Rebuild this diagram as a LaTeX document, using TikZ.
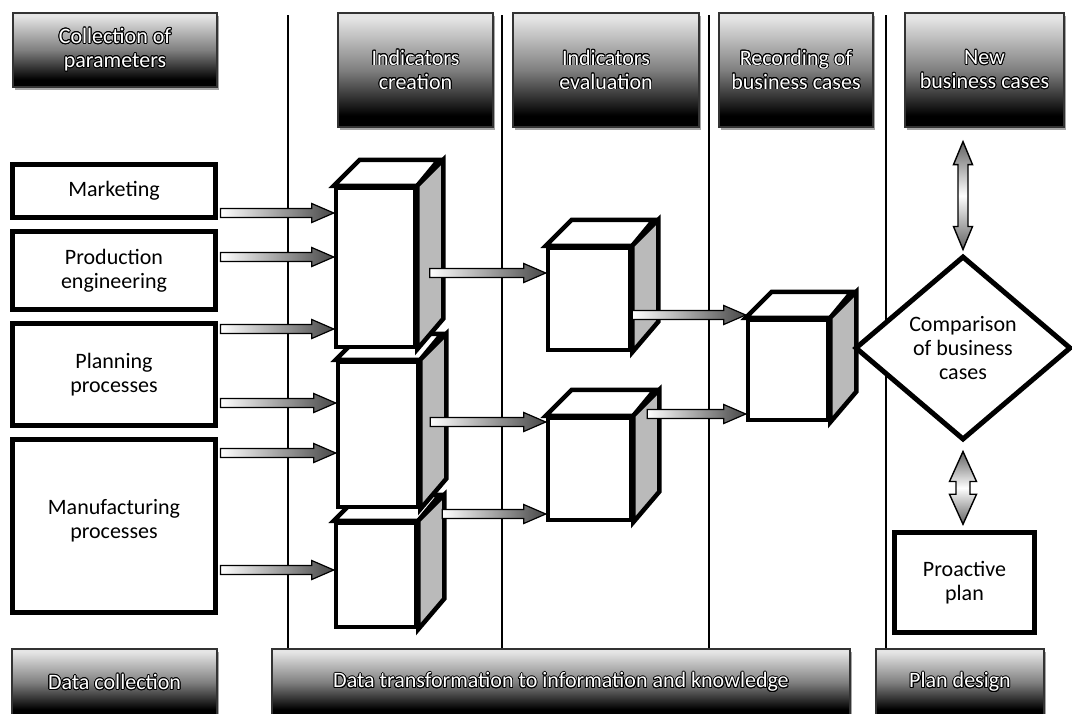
\documentclass[tikz,border=0pt]{standalone}
\usepackage{fontspec}
\setmainfont{Carlito}
\usepackage{contour}
\contourlength{0.85pt}
\usetikzlibrary{calc,shapes.geometric}
\pgfdeclareverticalshading{hdrshade}{100bp}{color(0bp)=(black); color(30bp)=(black); color(50bp)=(black!50); color(73bp)=(black!10); color(100bp)=(black!10)}
\newcommand\lbl{\fontsize{22}{24}\selectfont}
\newcommand\hw[1]{\contour{black}{#1}}
\tikzset{
  hdr/.style={shade, shading=hdrshade, draw=black!80, line width=1.2pt,
    preaction={fill=black, opacity=0.35, transform canvas={shift={(2pt,-3pt)}}},
    text=white, align=center, inner sep=0pt, font=\lbl},
  srcbox/.style={draw=black, line width=5pt, fill=white, align=center, inner sep=0pt, font=\lbl, text=black},
  plaintext/.style={align=center, inner sep=0pt, font=\lbl, text=black},
  cubefront/.style={draw=black, line width=4.5pt, fill=white, inner sep=0pt, line join=miter},
  cubeface/.style={draw=black, line width=4.5pt, line join=miter},
  swim/.style={line width=1.8pt, black},
  garrow/.style={left color=white, right color=black!72, draw=black, line width=1.2pt, line join=miter},
  darrow/.style={top color=black!62, bottom color=black!62, middle color=white, draw=black, line width=1.4pt, line join=miter},
}
\newcommand\harr[2]{%
  \path[garrow] let \p1=(#1), \p2=(#2) in
   (\x1,\y1+4.5pt) -- (\x2-22pt,\y1+4.5pt) -- (\x2-22pt,\y1+9.5pt) -- (\x2,\y1)
   -- (\x2-22pt,\y1-9.5pt) -- (\x2-22pt,\y1-4.5pt) -- (\x1,\y1-4.5pt) -- cycle;}
\newcommand\varr[5]{%
  \path[darrow] let \p1=(#1), \p2=(#2) in
   (\x1,\y1) -- (\x1+#4pt,\y1-#3pt) -- (\x1+#5pt,\y1-#3pt) -- (\x1+#5pt,\y2+#3pt)
   -- (\x1+#4pt,\y2+#3pt) -- (\x1,\y2) -- (\x1-#4pt,\y2+#3pt) -- (\x1-#5pt,\y2+#3pt)
   -- (\x1-#5pt,\y1-#3pt) -- (\x1-#4pt,\y1-#3pt) -- cycle;}
\newcommand\cubeat[4]{%
  \node[cubefront, minimum width=#3pt, minimum height=#4pt] (#1) at (#2) {};
  \path[cubeface, fill=white] (#1.north west) -- ++(26,-26) -- ++(#3,0) -- (#1.north east) -- cycle;
  \path[cubeface, fill=black!27] (#1.north east) -- ++(26,-26) -- ++(0,#4) -- (#1.south east) -- cycle;
}
\begin{document}
\begin{tikzpicture}[x=1pt,y=-1pt]
\useasboundingbox (0,0) rectangle (1072,713);
\fill[white] (0,0) rectangle (1072,713);

% swimlane separators
\draw[swim] (288,15) -- (288,649);
\draw[swim] (502,15) -- (502,649);
\draw[swim] (709,15) -- (709,649);
\draw[swim] (886,15) -- (886,649);

% header boxes
\node[hdr, minimum width=204pt, minimum height=74pt] (h1) at (115,50) {\hw{Collection of}\\\hw{parameters}};
\node[hdr, minimum width=155pt, minimum height=114pt] (h2) at (415.5,70) {\hw{Indicators}\\\hw{creation}};
\node[hdr, minimum width=186pt, minimum height=114pt] (h3) at (606,70) {\hw{Indicators}\\\hw{evaluation}};
\node[hdr, minimum width=154pt, minimum height=114pt] (h4) at (796,70) {\hw{Recording of}\\\hw{business cases}};
\node[hdr, minimum width=159pt, minimum height=114pt] (h5) at (984.5,70) {\hw{New}\\\hw{business cases}};

% bottom bars
\node[hdr, minimum width=205pt, minimum height=67pt] (b1) at (114.5,682.5) {\hw{Data collection}};
\node[hdr, minimum width=578pt, minimum height=67pt] (b2) at (561,682.5) {\hw{Data transformation to information and knowledge}};
\node[hdr, minimum width=168pt, minimum height=67pt] (b3) at (960,682.5) {\hw{Plan design}};

% source boxes
\node[srcbox, minimum width=203pt, minimum height=53pt] (mk) at (114,191) {Marketing};
\node[srcbox, minimum width=203pt, minimum height=78pt] (pe) at (114,270.5) {Production\\engineering};
\node[srcbox, minimum width=203pt, minimum height=102pt] (pp) at (114,374.5) {Planning\\processes};
\node[srcbox, minimum width=203pt, minimum height=173pt] (mp) at (114,526) {};
\node[plaintext] (mpt) at ($(mp.center)+(0,-5)$) {Manufacturing\\processes};

% cubes
\cubeat{c3}{376,575}{80}{104}
\cubeat{c2}{378,434.5}{80}{145}
\cubeat{c1}{375.5,267.5}{79}{159}
\cubeat{c4}{589,299}{82}{102}
\cubeat{c5}{589.5,469}{83}{102}
\cubeat{c6}{788,370}{80}{100}

% arrows into creation cubes
\coordinate (s1) at ($(mk.east)+(2.5,22)$);
\coordinate (s2) at ($(pe.east)+(2.5,-13.5)$);
\coordinate (s3) at ($(pp.east)+(2.5,-45.5)$);
\coordinate (s4) at ($(pp.east)+(2.5,28.5)$);
\coordinate (s5) at ($(mp.east)+(2.5,-73)$);
\coordinate (s6) at ($(mp.east)+(2.5,44)$);
\harr{s1}{c1.west |- s1}
\harr{s2}{c1.west |- s2}
\harr{s3}{c1.west |- s3}
\harr{s4}{c2.west |- s4}
\harr{s5}{c2.west |- s5}
\harr{s6}{c3.west |- s6}

% arrows between cubes
\coordinate (s7) at ($(c1.east)+(12.5,5.5)$);
\coordinate (s8) at ($(c2.east)+(10,-12.5)$);
\coordinate (s9) at ($(c3.east)+(24,-61)$);
\coordinate (s10) at ($(c4.east)+(0,16)$);
\coordinate (s11) at ($(c5.east)+(14,-55)$);
\harr{s7}{c4.west |- s7}
\harr{s8}{c5.west |- s8}
\harr{s9}{c5.west |- s9}
\harr{s10}{c6.west |- s10}
\harr{s11}{c6.west |- s11}

% comparison and plan
\node[draw, diamond, aspect=1.17, line width=5pt, fill=white, minimum width=216pt, minimum height=184pt,
      inner sep=0pt, align=center, font=\lbl] (cmp) at (963,348) {Comparison\\of business\\cases};
\node[srcbox, line width=5.5pt, minimum width=140pt, minimum height=100pt] (pl) at (964.5,582.5) {Proactive\\plan};

% double arrows
\coordinate (u1) at ($(cmp.north |- h5.south)+(0,14)$);
\coordinate (u2) at ($(cmp.north)+(0,-4)$);
\coordinate (d1) at ($(cmp.south)+(0,9)$);
\coordinate (d2) at ($(pl.north)+(0,-5.5)$);
\varr{u1}{u2}{23}{9.5}{5}
\varr{d1}{d2}{30}{13.5}{7}
\end{tikzpicture}
\end{document}
